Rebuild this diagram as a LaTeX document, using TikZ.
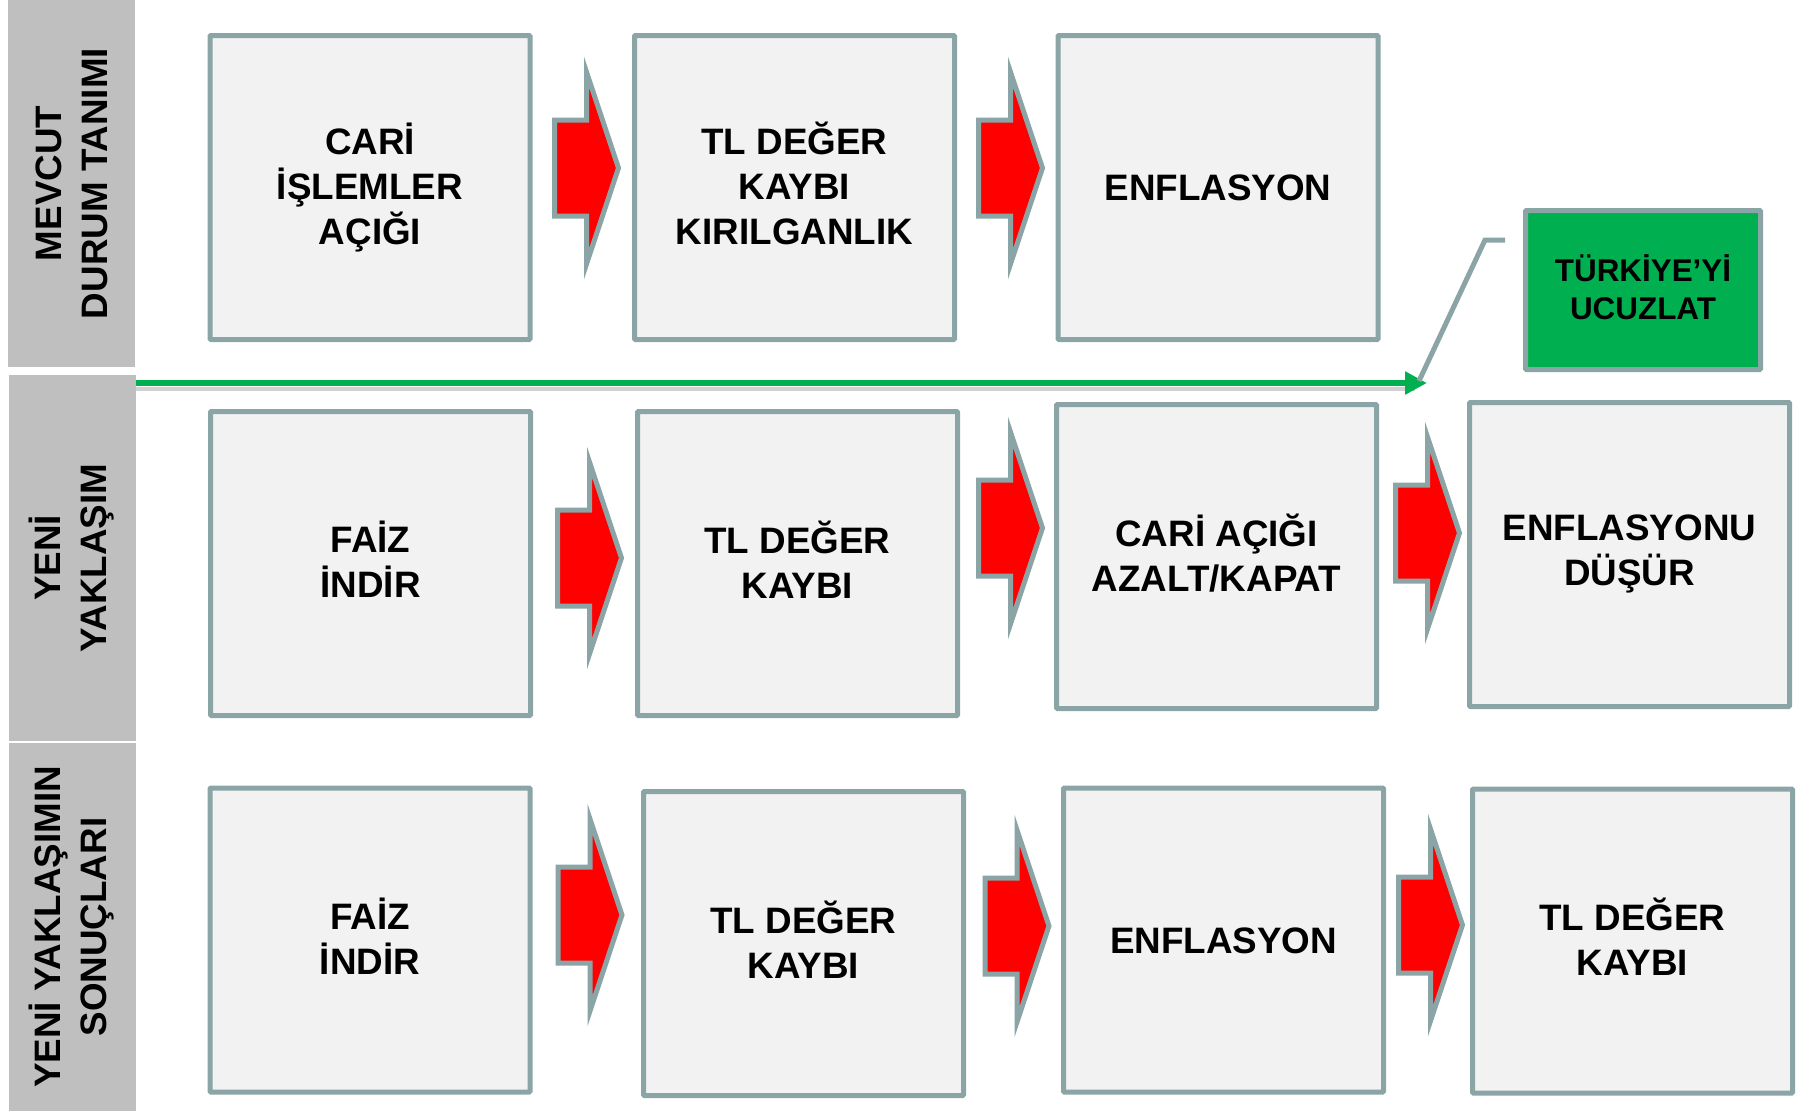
\documentclass[tikz,border=0pt]{standalone}
\usepackage{fontspec}
\setmainfont{Liberation Sans}
\usetikzlibrary{arrows.meta,positioning}

\definecolor{boxgray}{RGB}{139,164,166}
\definecolor{boxfill}{RGB}{242,242,242}
\definecolor{lblgray}{RGB}{191,191,191}
\definecolor{okgreen}{RGB}{0,176,80}

% fixed line height, so text sits like in the slide
\newcommand{\linestrut}{\rule[-0.217em]{0pt}{1.152em}}

\tikzset{
  stepbox/.style={draw=boxgray, fill=boxfill, line width=2.5pt, rounded corners=0.5pt,
    minimum width=160pt, minimum height=152pt, inner sep=0pt, align=center,
    font=\fontsize{18.4}{22.5}\selectfont\bfseries,
    execute at begin node=\linestrut, execute at end node=\linestrut},
  sidelabel/.style={fill=lblgray, rotate=90, minimum height=63.5pt, inner sep=0pt,
    align=center, font=\fontsize{18.4}{23}\selectfont\bfseries},
  goalbox/.style={draw=boxgray, fill=okgreen, line width=2.5pt, rounded corners=0.5pt,
    minimum width=117.5pt, minimum height=79.5pt, inner sep=0pt, align=center,
    font=\fontsize{15.7}{19}\selectfont\bfseries,
    execute at begin node=\linestrut, execute at end node=\linestrut},
  blockarrow/.style={draw=boxgray, fill=red, line width=2.5pt},
}

\begin{document}
\begin{tikzpicture}[x=0.5pt, y=-0.5pt]
  \useasboundingbox (0,0) rectangle (1801,1115);
  % Row labels
  \node[sidelabel, minimum width=183.5pt] (lblnow) at (71.5,183.5) {MEVCUT\\DURUM TANIMI};
  \node[sidelabel, minimum width=183pt] (lblnew) at (72,558) {YENİ\\YAKLAŞIM};
  \node[sidelabel, minimum width=184pt] (lblres) at (72,927) {YENİ YAKLAŞIMIN\\SONUÇLARI};

  % Row 1: current situation
  \node[stepbox] (cari) at (370,187.5) {CARİ\\İŞLEMLER\\AÇIĞI};
  \node[stepbox] (tlkayip) at (794.5,187.5) {TL DEĞER\\KAYBI\\KIRILGANLIK};
  \node[stepbox] (enf) at (1218,187.5) {ENFLASYON};
  \node[goalbox] (ucuz) at (1643,290) {TÜRKİYE’Yİ\\UCUZLAT};

  % Row 2: new approach
  \node[stepbox] (faiz) at (370.5,563.5) {FAİZ\\İNDİR};
  \node[stepbox] (tldeger) at (797.5,563.5) {TL DEĞER\\KAYBI};
  \node[stepbox] (cariazalt) at (1216.5,556.5) {CARİ AÇIĞI\\AZALT/KAPAT};
  \node[stepbox] (enfdus) at (1629.5,554.5) {ENFLASYONU\\DÜŞÜR};

  % Row 3: results
  \node[stepbox] (faizres) at (370,940) {FAİZ\\İNDİR};
  \node[stepbox] (tlres) at (803.5,943.5) {TL DEĞER\\KAYBI};
  \node[stepbox] (enfres) at (1223.5,940) {ENFLASYON};
  \node[stepbox] (tlres2) at (1632.5,941) {TL DEĞER\\KAYBI};

  % Red block arrows
  \foreach \l/\c in {552/168, 976/168, 555/558, 976/528, 1393/533, 555.5/915, 982.5/926, 1396/925} {
    \draw[blockarrow] (\l+2.5,\c-48) -- (\l+34.5,\c-48) -- (\l+34.5,\c-96) -- (\l+66.5,\c)
      -- (\l+34.5,\c+96) -- (\l+34.5,\c+48) -- (\l+2.5,\c+48) -- cycle;
  }

  % Green divider with shadow
  \coordinate (lineS) at (136,383);
  \coordinate (lineE) at (1427,383);
  \draw[black!30, opacity=0.6, line width=2pt] ([yshift=-3pt]lineS) -- ([xshift=-6pt,yshift=-3pt]lineE);
  \draw[okgreen, line width=3pt, -{Triangle[length=11pt,width=11pt]}] (lineS) -- (lineE);

  % Callout line
  \coordinate (callA) at (1505,240);
  \coordinate (callB) at (1485,240);
  \coordinate (callC) at (1419,381);
  \draw[boxgray, line width=2.5pt] (callA) -- (callB) -- (callC);
\end{tikzpicture}
\end{document}
